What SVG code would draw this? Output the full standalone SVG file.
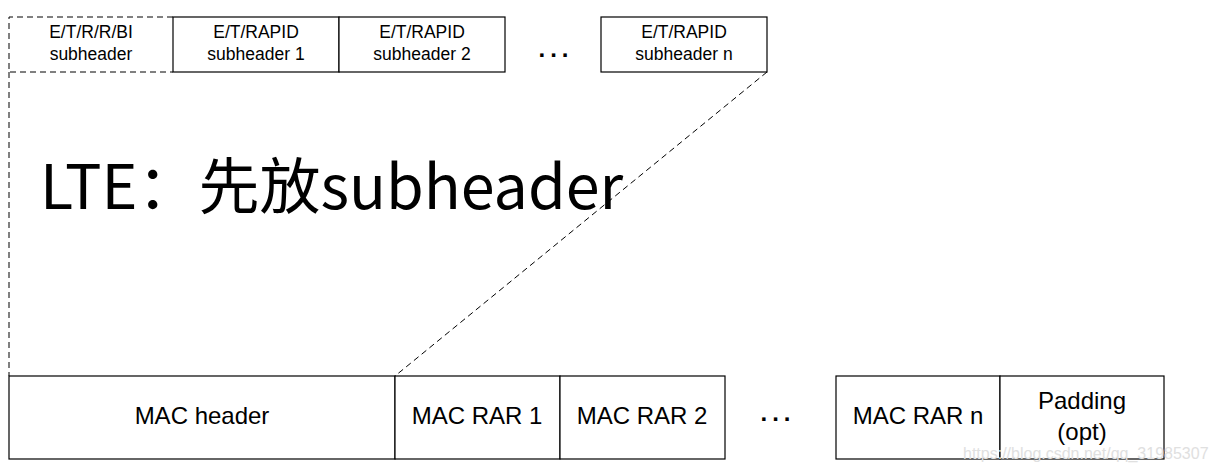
<svg xmlns="http://www.w3.org/2000/svg" width="1215" height="472" viewBox="0 0 1215 472">
<style>
.box{fill:#fff;stroke:#000;stroke-width:1.2}
.dash{fill:none;stroke:#000;stroke-width:1;stroke-dasharray:6,4}
.s{font-family:"Liberation Sans",Arial,sans-serif;font-size:17.5px;fill:#000;text-anchor:middle}
.m{font-family:"Liberation Sans",Arial,sans-serif;font-size:24px;fill:#000;text-anchor:middle}
.dots{font-family:"Liberation Sans",Arial,sans-serif;font-weight:bold;font-size:24px;fill:#000;text-anchor:middle;letter-spacing:5px}
</style>
<rect width="1215" height="472" fill="#fff"/>
<g id="connectors">
<line class="dash" x1="9" y1="72" x2="9" y2="376"/>
<line class="dash" x1="767" y1="72" x2="395" y2="376"/>
</g>
<g id="bi-subheader">
<path class="dash" d="M173,17 H9 V72 H173"/>
<text class="s" x="91" y="38">E/T/R/R/BI</text>
<text class="s" x="91" y="60">subheader</text>
</g>
<g id="subheader1">
<rect class="box" x="173" y="17" width="166" height="55"/>
<text class="s" x="256" y="38">E/T/RAPID</text>
<text class="s" x="256" y="60">subheader 1</text>
</g>
<g id="subheader2">
<rect class="box" x="339" y="17" width="166" height="55"/>
<text class="s" x="422" y="38">E/T/RAPID</text>
<text class="s" x="422" y="60">subheader 2</text>
</g>
<g id="dots-top"><text class="dots" x="556" y="57">...</text></g>
<g id="subheadern">
<rect class="box" x="601" y="17" width="166" height="55"/>
<text class="s" x="684" y="38">E/T/RAPID</text>
<text class="s" x="684" y="60">subheader n</text>
</g>
<g id="title">
<text x="40" y="209" style="font-family:'Noto Sans CJK SC','Noto Sans',sans-serif;font-size:61px;fill:#000">LTE：先放subheader</text>
</g>
<g id="mac-header">
<rect class="box" x="9" y="376" width="386" height="83"/>
<text class="m" x="202" y="424">MAC header</text>
</g>
<g id="rar1">
<rect class="box" x="395" y="376" width="165" height="83"/>
<text class="m" x="477" y="424">MAC RAR 1</text>
</g>
<g id="rar2">
<rect class="box" x="560" y="376" width="165" height="83"/>
<text class="m" x="642" y="424">MAC RAR 2</text>
</g>
<g id="dots-bottom"><text class="dots" x="778" y="421">...</text></g>
<g id="rarn">
<rect class="box" x="836" y="376" width="164" height="83"/>
<text class="m" x="918" y="424">MAC RAR n</text>
</g>
<g id="padding">
<rect class="box" x="1000" y="376" width="164" height="83"/>
<text class="m" x="1082" y="409">Padding</text>
<text class="m" x="1082" y="440">(opt)</text>
</g>
<text x="963" y="459" style="font-family:'Liberation Sans',Arial,sans-serif;font-size:16px;fill:#e0e0e0">https://blog.csdn.net/qq_31985307</text>
</svg>
